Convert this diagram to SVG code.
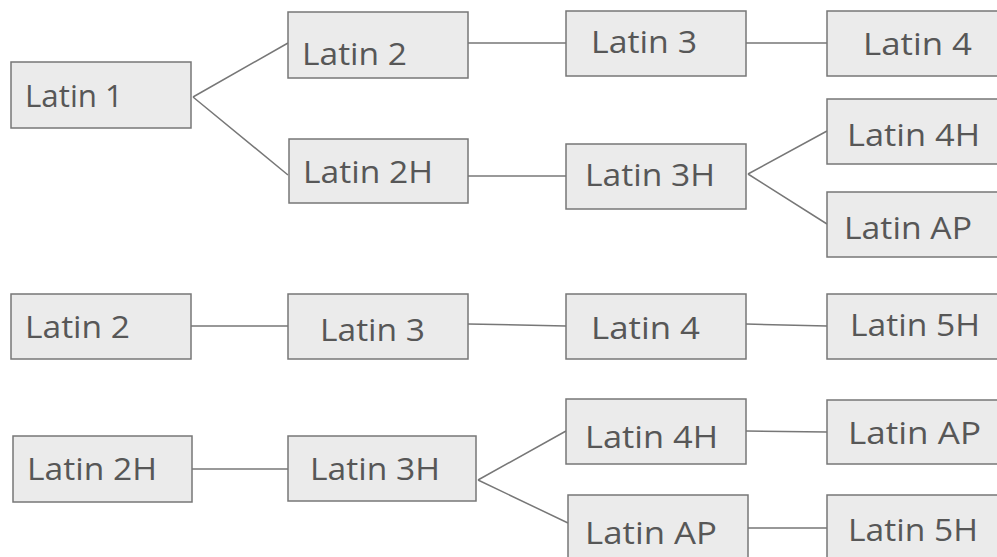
<svg xmlns="http://www.w3.org/2000/svg" width="997" height="557" viewBox="0 0 997 557">
<style>
.box{fill:#ebebeb;stroke:#777;stroke-width:1.5}
.t{font-family:"Open Sans","Noto Sans","Liberation Sans",sans-serif;font-size:31px;fill:#575757}
.c{stroke:#777;stroke-width:1.5;fill:none}
</style>
<rect width="997" height="557" fill="#fff"/>
<g id="connectors">
<path class="c" d="M193,97 L288,43 M193,97 L288,175"/>
<path class="c" d="M468,43 L566,43 M746,43 L827,43"/>
<path class="c" d="M468,176 L566,176"/>
<path class="c" d="M748,174 L827,131 M748,174 L827,224"/>
<path class="c" d="M191,326 L288,326 M468,324 L566,326 M746,324 L827,326"/>
<path class="c" d="M192,469 L288,469"/>
<path class="c" d="M478,480 L566,431 M478,480 L568,523"/>
<path class="c" d="M746,431 L827,432 M748,528 L827,528"/>
</g>
<g id="n1"><rect class="box" x="11" y="62" width="180" height="66"/><text class="t" x="25" y="107" textLength="98" lengthAdjust="spacingAndGlyphs">Latin 1</text></g>
<g id="n2"><rect class="box" x="288" y="12" width="180" height="66"/><text class="t" x="302" y="65" textLength="105" lengthAdjust="spacingAndGlyphs">Latin 2</text></g>
<g id="n3"><rect class="box" x="289" y="139" width="179" height="64"/><text class="t" x="303" y="183" textLength="130" lengthAdjust="spacingAndGlyphs">Latin 2H</text></g>
<g id="n4"><rect class="box" x="566" y="11" width="180" height="65"/><text class="t" x="591" y="53" textLength="106" lengthAdjust="spacingAndGlyphs">Latin 3</text></g>
<g id="n5"><rect class="box" x="827" y="11" width="180" height="65"/><text class="t" x="863" y="55" textLength="109" lengthAdjust="spacingAndGlyphs">Latin 4</text></g>
<g id="n6"><rect class="box" x="566" y="144" width="180" height="65"/><text class="t" x="585" y="186" textLength="130" lengthAdjust="spacingAndGlyphs">Latin 3H</text></g>
<g id="n7"><rect class="box" x="827" y="99" width="180" height="65"/><text class="t" x="847" y="146" textLength="133" lengthAdjust="spacingAndGlyphs">Latin 4H</text></g>
<g id="n8"><rect class="box" x="827" y="192" width="180" height="65"/><text class="t" x="844" y="239" textLength="128" lengthAdjust="spacingAndGlyphs">Latin AP</text></g>
<g id="n9"><rect class="box" x="11" y="294" width="180" height="65"/><text class="t" x="25" y="338" textLength="105" lengthAdjust="spacingAndGlyphs">Latin 2</text></g>
<g id="n10"><rect class="box" x="288" y="294" width="180" height="65"/><text class="t" x="320" y="341" textLength="105" lengthAdjust="spacingAndGlyphs">Latin 3</text></g>
<g id="n11"><rect class="box" x="566" y="294" width="180" height="65"/><text class="t" x="591" y="339" textLength="109" lengthAdjust="spacingAndGlyphs">Latin 4</text></g>
<g id="n12"><rect class="box" x="827" y="294" width="180" height="65"/><text class="t" x="850" y="336" textLength="130" lengthAdjust="spacingAndGlyphs">Latin 5H</text></g>
<g id="n13"><rect class="box" x="13" y="436" width="179" height="66"/><text class="t" x="27" y="480" textLength="130" lengthAdjust="spacingAndGlyphs">Latin 2H</text></g>
<g id="n14"><rect class="box" x="288" y="436" width="188" height="65"/><text class="t" x="310" y="480" textLength="130" lengthAdjust="spacingAndGlyphs">Latin 3H</text></g>
<g id="n15"><rect class="box" x="566" y="399" width="180" height="65"/><text class="t" x="585" y="448" textLength="133" lengthAdjust="spacingAndGlyphs">Latin 4H</text></g>
<g id="n16"><rect class="box" x="827" y="400" width="180" height="64"/><text class="t" x="848" y="444" textLength="133" lengthAdjust="spacingAndGlyphs">Latin AP</text></g>
<g id="n17"><rect class="box" x="568" y="495" width="180" height="70"/><text class="t" x="585" y="544" textLength="132" lengthAdjust="spacingAndGlyphs">Latin AP</text></g>
<g id="n18"><rect class="box" x="827" y="495" width="180" height="70"/><text class="t" x="848" y="541" textLength="130" lengthAdjust="spacingAndGlyphs">Latin 5H</text></g>
</svg>
